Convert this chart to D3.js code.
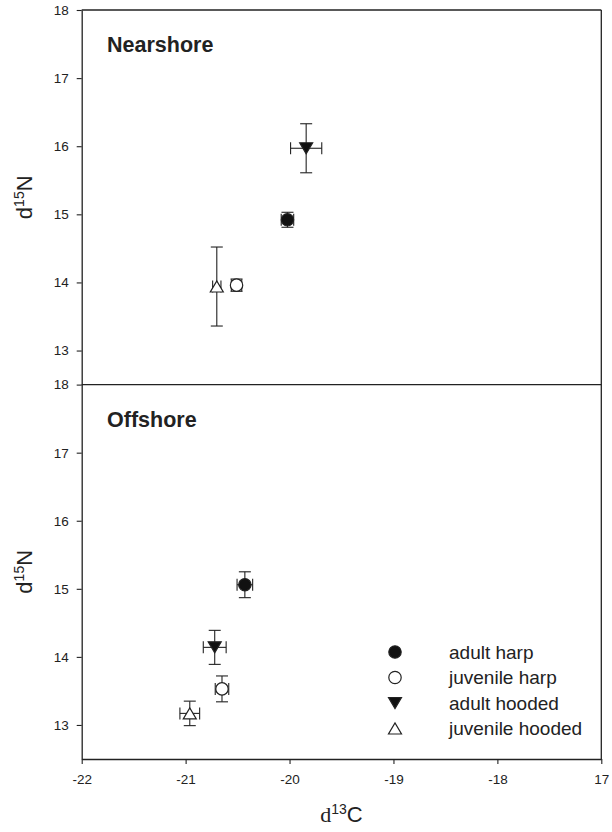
<!DOCTYPE html>
<html>
<head>
<meta charset="utf-8">
<script src="https://cdn.jsdelivr.net/npm/d3@7"></script>
<style>
  body { margin: 0; background: #fff; }
  svg { display: block; font-family: "Liberation Sans", Arial, sans-serif; }
</style>
</head>
<body>
<svg id="chart" width="612" height="832"></svg>
<script>
// groups, in legend order
const groups = ["adult harp", "juvenile harp", "adult hooded", "juvenile hooded"];

// nearshore means and errors
const nearC = [-20.02, -20.51, -19.84, -20.70];
const nearCErr = [0.06, 0.05, 0.15, 0.04];
const nearN = [14.92, 13.96, 15.97, 13.94];
const nearNErr = [0.11, 0.09, 0.36, 0.58];

// offshore means and errors
const offC = [-20.43, -20.65, -20.72, -20.96];
const offCErr = [0.075, 0.065, 0.11, 0.095];
const offN = [15.06, 13.53, 14.14, 13.17];
const offNErr = [0.19, 0.19, 0.25, 0.18];

const xTicks = [-22, -21, -20, -19, -18, -17];
const xTickLabels = ["-22", "-21", "-20", "-19", "-18", "17"];
const yTicks = [13, 14, 15, 16, 17, 18];

const INK = "#222";
const svg = d3.select("#chart");

const x = d3.scaleLinear().domain([-22, -17]).range([81.7, 601.3]);
const yTop = d3.scaleLinear().domain([12.5, 18]).range([384.6, 10]);
const yBot = d3.scaleLinear().domain([12.5, 18]).range([759, 384.6]);

function markerPath(kind) {
  if (kind === 2) return "M-6.5,-5.5L6.5,-5.5L0,5.5Z";      // filled down triangle
  if (kind === 3) return "M-6.5,5.5L6.5,5.5L0,-5.5Z";       // open up triangle
  return d3.symbol(d3.symbolCircle, Math.PI * 6.2 * 6.2)();
}
function markerFill(kind) {
  return (kind === 0 || kind === 2) ? "#111" : "#fff";
}

function drawPanel(y, cs, cErr, ns, nErr, title) {
  const g = svg.append("g");

  const yAxis = d3.axisLeft(y)
    .tickValues(yTicks)
    .tickFormat(d3.format("d"))
    .tickSize(5)
    .tickPadding(8)
    .tickSizeOuter(0);
  const ya = g.append("g").attr("transform", "translate(" + x.range()[0] + ",0)").call(yAxis);
  ya.select(".domain").attr("stroke", INK).attr("stroke-width", 1.3);
  ya.selectAll(".tick line").attr("stroke", INK).attr("stroke-width", 1.1);
  ya.selectAll(".tick text").attr("fill", INK).style("font-size", "13.5px");

  g.append("text")
    .attr("x", 107).attr("y", y.range()[1] + 42)
    .style("font-size", "21.5px").style("font-weight", "bold")
    .attr("fill", INK)
    .text(title);

  const cy = (y.range()[0] + y.range()[1]) / 2;
  const lab = g.append("text")
    .attr("transform", "translate(32," + cy + ") rotate(-90)")
    .attr("text-anchor", "middle")
    .attr("fill", INK)
    .style("font-size", "22px");
  lab.append("tspan").text("d");
  lab.append("tspan").attr("dy", -8).style("font-size", "14px").text("15");
  lab.append("tspan").attr("dy", 8).text("N");

  const pts = groups.map((name, i) => ({
    i: i, c: cs[i], ce: cErr[i], n: ns[i], ne: nErr[i]
  }));

  const err = g.append("g").attr("stroke", INK).attr("stroke-width", 1.1).attr("fill", "none");
  pts.forEach(d => {
    const px = x(d.c), py = y(d.n);
    const y0 = y(d.n - d.ne), y1 = y(d.n + d.ne);
    const x0 = x(d.c - d.ce), x1 = x(d.c + d.ce);
    err.append("line").attr("x1", px).attr("x2", px).attr("y1", y0).attr("y2", y1);
    err.append("line").attr("x1", px - 6).attr("x2", px + 6).attr("y1", y0).attr("y2", y0);
    err.append("line").attr("x1", px - 6).attr("x2", px + 6).attr("y1", y1).attr("y2", y1);
    err.append("line").attr("x1", x0).attr("x2", x1).attr("y1", py).attr("y2", py);
    err.append("line").attr("x1", x0).attr("x2", x0).attr("y1", py - 6).attr("y2", py + 6);
    err.append("line").attr("x1", x1).attr("x2", x1).attr("y1", py - 6).attr("y2", py + 6);
  });

  g.selectAll(".pt")
    .data(pts)
    .join("path")
    .attr("class", "pt")
    .attr("transform", d => "translate(" + x(d.c) + "," + y(d.n) + ")")
    .attr("d", d => markerPath(d.i))
    .attr("fill", d => markerFill(d.i))
    .attr("stroke", INK)
    .attr("stroke-width", 1.2);
  return g;
}

drawPanel(yTop, nearC, nearCErr, nearN, nearNErr, "Nearshore");
drawPanel(yBot, offC, offCErr, offN, offNErr, "Offshore");

// x axis on the lower panel
const xAxis = d3.axisBottom(x)
  .tickValues(xTicks)
  .tickFormat((d, i) => xTickLabels[i])
  .tickSize(5)
  .tickPadding(10)
  .tickSizeOuter(0);
const xa = svg.append("g").attr("transform", "translate(0," + yBot.range()[0] + ")").call(xAxis);
xa.select(".domain").attr("stroke", INK).attr("stroke-width", 1.3);
xa.selectAll(".tick line").attr("stroke", INK).attr("stroke-width", 1.1);
xa.selectAll(".tick text").attr("fill", INK).style("font-size", "13.5px");

// frame: top, right, and the shared middle line
const frame = svg.append("g").attr("stroke", INK).attr("stroke-width", 1.3);
frame.append("line").attr("x1", x.range()[0]).attr("x2", x.range()[1]).attr("y1", yTop.range()[1]).attr("y2", yTop.range()[1]);
frame.append("line").attr("x1", x.range()[1]).attr("x2", x.range()[1]).attr("y1", yTop.range()[1]).attr("y2", yBot.range()[0]);
frame.append("line").attr("x1", x.range()[0]).attr("x2", x.range()[1]).attr("y1", yTop.range()[0]).attr("y2", yTop.range()[0]);

// x label
const xl = svg.append("text")
  .attr("x", (x.range()[0] + x.range()[1]) / 2)
  .attr("y", 822)
  .attr("text-anchor", "middle")
  .attr("fill", INK)
  .style("font-size", "22px");
xl.append("tspan").style("font-family", "'Liberation Serif', serif").text("d");
xl.append("tspan").attr("dy", -8).style("font-size", "14px").text("13");
xl.append("tspan").attr("dy", 8).text("C");

// legend
const legend = svg.append("g");
const rows = legend.selectAll("g")
  .data(groups)
  .join("g")
  .attr("transform", (d, i) => "translate(395," + (652 + i * 25.5) + ")");
rows.append("path")
  .attr("d", (d, i) => markerPath(i))
  .attr("fill", (d, i) => markerFill(i))
  .attr("stroke", INK)
  .attr("stroke-width", 1.2);
rows.append("text")
  .attr("x", 54)
  .attr("dy", "0.35em")
  .attr("fill", INK)
  .style("font-size", "19px")
  .text(d => d);
</script>
</body>
</html>
